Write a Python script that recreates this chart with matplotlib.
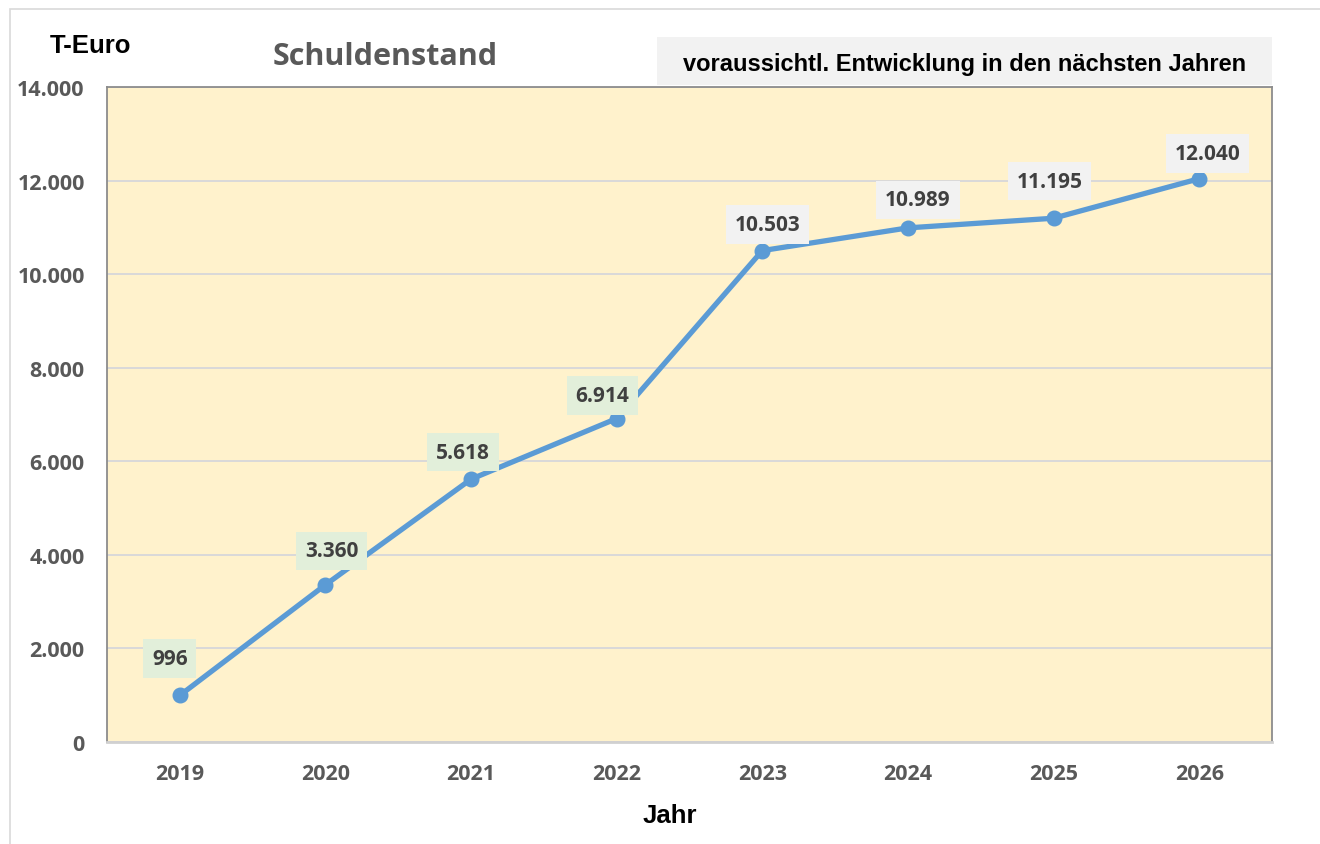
import matplotlib
matplotlib.use("Agg")
import matplotlib.pyplot as plt
from matplotlib.patches import Rectangle

years = ["2019", "2020", "2021", "2022", "2023", "2024", "2025", "2026"]
values = [996, 3360, 5618, 6914, 10503, 10989, 11195, 12040]
labels = ["996", "3.360", "5.618", "6.914", "10.503", "10.989", "11.195", "12.040"]
forecast = [False, False, False, False, True, True, True, True]
yticks = [0, 2000, 4000, 6000, 8000, 10000, 12000, 14000]
ytick_labels = ["0", "2.000", "4.000", "6.000", "8.000", "10.000", "12.000", "14.000"]

# label placement (pixels relative to the data point), as in the original layout
label_dx = [-10, 6, -8, -14, 5, 10, -4, 8]
label_dy = [37, 34, 27, 23, 26, 28, 37, 25]

W, H = 1320, 845
DPI = 100
fig = plt.figure(figsize=(W / DPI, H / DPI), dpi=DPI)
fig.patch.set_facecolor("white")
px = 72 / DPI  # points per pixel

# outer chart border
fig.patches.append(Rectangle((10 / W, -0.1), 1.2, (H - 10) / H + 0.1, transform=fig.transFigure,
                             fill=False, edgecolor="#D9D9D9", linewidth=1.2))

l, r, t, b = 107, 1272, 88, 743
ax = fig.add_axes([l / W, 1 - b / H, (r - l) / W, (b - t) / H])
ax.set_facecolor("#FFF2CC")

x = list(range(len(years)))
ax.set_xlim(-0.5, len(years) - 0.5)
ax.set_ylim(0, 14000)
ax.set_yticks(yticks)
ax.set_yticklabels(ytick_labels)
ax.set_xticks(x)
ax.set_xticklabels(years)
ax.grid(axis="y", color="#D9D9D9", linewidth=1.4)
ax.set_axisbelow(True)
ax.tick_params(length=0)
for lab in ax.get_xticklabels() + ax.get_yticklabels():
    lab.set_fontfamily("Open Sans")
    lab.set_fontweight("bold")
    lab.set_fontsize(15.5)
    lab.set_color("#595959")
ax.tick_params(axis="y", pad=16)
ax.tick_params(axis="x", pad=15)

for side in ["left", "top", "right"]:
    ax.spines[side].set_color("#8C8C8C")
    ax.spines[side].set_linewidth(1.3)
ax.spines["bottom"].set_color("#D0D0D0")
ax.spines["bottom"].set_linewidth(2)

ax.plot(x, values, color="#5B9BD5", linewidth=3.8, marker="o", markersize=10.5,
        solid_capstyle="round", zorder=3)

for xi, v, lab, fc, dx, dy in zip(x, values, labels, forecast, label_dx, label_dy):
    ax.annotate(lab, (xi, v), xytext=(dx * px, dy * px), textcoords="offset points",
                ha="center", va="center", fontsize=15, fontweight="bold",
                fontfamily="Open Sans", color="#404040", zorder=4,
                bbox=dict(boxstyle="square,pad=0.42",
                          facecolor="#F2F2F2" if fc else "#E2EFDA",
                          edgecolor="none"))

fig.text(91 / W, 1 - 46 / H, "T-Euro", ha="center", va="center", fontsize=18.5,
         fontweight="bold", fontfamily="Liberation Sans", color="black")
fig.text(385 / W, 1 - 57 / H, "Schuldenstand", ha="center", va="center", fontsize=22,
         fontweight="bold", fontfamily="Open Sans", color="#595959")

fig.patches.append(Rectangle((657 / W, 1 - 86 / H), (1272 - 657) / W, 48 / H,
                             transform=fig.transFigure, facecolor="#F2F2F2",
                             edgecolor="none"))
fig.text(965 / W, 1 - 64 / H, "voraussichtl. Entwicklung in den nächsten Jahren",
         ha="center", va="center", fontsize=17, fontweight="bold",
         fontfamily="Liberation Sans", color="black")

fig.text(670 / W, 1 - 816 / H, "Jahr", ha="center", va="center", fontsize=18.5,
         fontweight="bold", fontfamily="Liberation Sans", color="black")

fig.savefig("out.png", dpi=DPI)
